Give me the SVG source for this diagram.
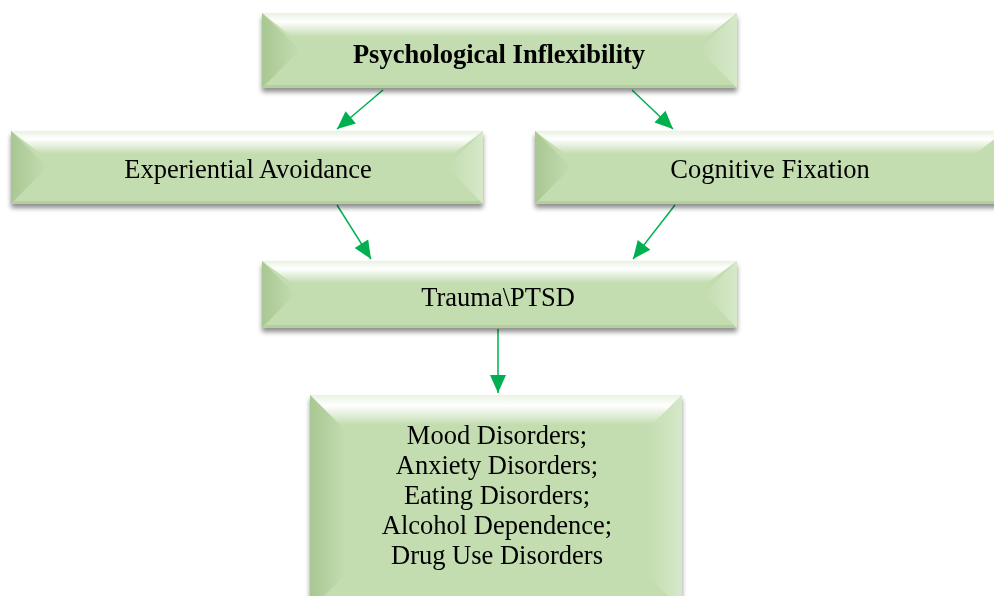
<svg xmlns="http://www.w3.org/2000/svg" width="994" height="596" viewBox="0 0 994 596">
<defs>
<style>
.face{fill:#c3dcb0}
.top{fill:url(#gTop)}
.left{fill:url(#gL)}
.right{fill:url(#gR)}
.bot{fill:#b3cf9e}
.t{font-family:"Liberation Serif","Times New Roman",serif;font-size:26.5px;fill:#000;text-anchor:middle}
.b{font-weight:bold;font-size:26.5px}
.conn{stroke:#00b050;stroke-width:1.5;fill:none;marker-end:url(#ah)}
</style>
<linearGradient id="gTop" x1="0" y1="0" x2="0" y2="1">
<stop offset="0" stop-color="#e9f3e1"/>
<stop offset="0.35" stop-color="#ffffff"/>
<stop offset="1" stop-color="#c3dcb0"/>
</linearGradient>
<linearGradient id="gL" x1="0" y1="0" x2="1" y2="0">
<stop offset="0" stop-color="#a8c792"/>
<stop offset="1" stop-color="#c3dcb0"/>
</linearGradient>
<linearGradient id="gR" x1="1" y1="0" x2="0" y2="0">
<stop offset="0" stop-color="#d6e8c9"/>
<stop offset="1" stop-color="#c3dcb0"/>
</linearGradient>
<filter id="sh" x="-5%" y="-10%" width="110%" height="130%">
<feGaussianBlur in="SourceAlpha" stdDeviation="2.5"/>
<feOffset dx="0" dy="4" result="b"/>
<feComponentTransfer><feFuncA type="linear" slope="0.45"/></feComponentTransfer>
<feMerge><feMergeNode/><feMergeNode in="SourceGraphic"/></feMerge>
</filter>
<marker id="ah" viewBox="0 0 10 10" refX="10" refY="5" markerWidth="10" markerHeight="10" markerUnits="userSpaceOnUse" orient="auto" overflow="visible">
<path d="M-8,-3 L10,5 L-8,13 Z" fill="#00b050"/>
</marker>
</defs>
<rect width="994" height="596" fill="#fff"/>

<g id="connectors">
<line class="conn" x1="383" y1="90" x2="337" y2="129"/>
<line class="conn" x1="632" y1="90" x2="673" y2="129"/>
<line class="conn" x1="337" y1="205" x2="371" y2="259"/>
<line class="conn" x1="675" y1="205" x2="633" y2="259"/>
<line class="conn" x1="498" y1="329" x2="498" y2="393"/>
</g>

<g id="n1" filter="url(#sh)">
<rect class="face" x="262" y="13" width="475" height="75"/>
<polygon class="top" points="262,13 737,13 707,37 292,37"/>
<polygon class="left" points="262,13 300,50 262,88"/>
<polygon class="right" points="737,13 699,50 737,88"/>
<polygon class="bot" points="262,88 737,88 733,85 266,85"/>
<text class="t b" x="499" y="63">Psychological Inflexibility</text>
</g>

<g id="n2" filter="url(#sh)">
<rect class="face" x="11" y="131" width="472" height="73"/>
<polygon class="top" points="11,131 483,131 453,154 41,154"/>
<polygon class="left" points="11,131 47,167 11,204"/>
<polygon class="right" points="483,131 447,167 483,204"/>
<polygon class="bot" points="11,204 483,204 479,201 15,201"/>
<text class="t" x="248" y="178">Experiential Avoidance</text>
</g>

<g id="n3" filter="url(#sh)">
<rect class="face" x="535" y="131" width="470" height="73"/>
<polygon class="top" points="535,131 1005,131 975,154 565,154"/>
<polygon class="left" points="535,131 571,167 535,204"/>
<polygon class="bot" points="535,204 1005,204 1001,201 539,201"/>
<text class="t" x="770" y="178">Cognitive Fixation</text>
</g>

<g id="n4" filter="url(#sh)">
<rect class="face" x="262" y="261" width="475" height="67"/>
<polygon class="top" points="262,261 737,261 707,283 292,283"/>
<polygon class="left" points="262,261 295,294 262,328"/>
<polygon class="right" points="737,261 704,294 737,328"/>
<polygon class="bot" points="262,328 737,328 733,325 266,325"/>
<text class="t" x="498" y="306">Trauma\PTSD</text>
</g>

<g id="n5" filter="url(#sh)">
<rect class="face" x="310" y="395" width="372" height="215"/>
<polygon class="top" points="310,395 682,395 652,425 340,425"/>
<polygon class="left" points="310,395 345,430 345,575 310,610"/>
<polygon class="right" points="682,395 647,430 647,575 682,610"/>
<text class="t" x="497" y="444">Mood Disorders;</text>
<text class="t" x="497" y="474">Anxiety Disorders;</text>
<text class="t" x="497" y="504">Eating Disorders;</text>
<text class="t" x="497" y="534">Alcohol Dependence;</text>
<text class="t" x="497" y="564">Drug Use Disorders</text>
</g>
</svg>
